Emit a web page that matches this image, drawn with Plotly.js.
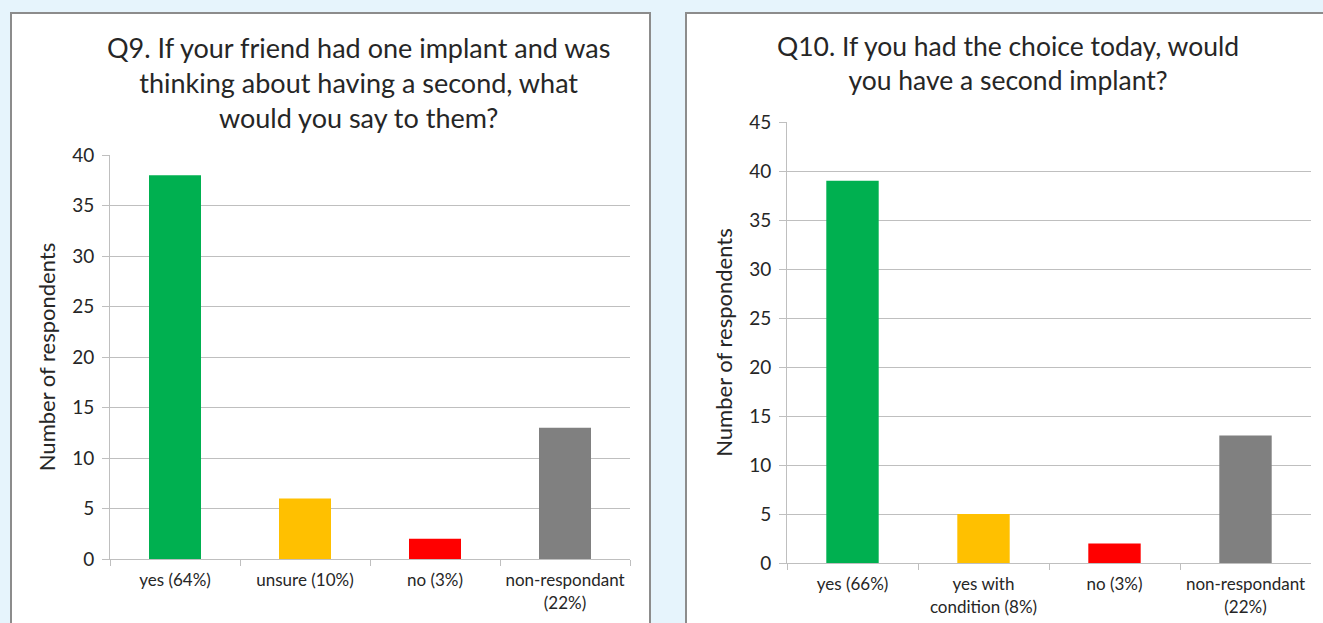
<!DOCTYPE html>
<html>
<head>
<meta charset="utf-8">
<script src="https://cdn.plot.ly/plotly-3.0.1.min.js"></script>
<style>
html,body{margin:0;padding:0;background:#E6F4FC;}
#chart{width:1323px;height:623px;}
</style>
</head>
<body>
<div id="chart"></div>
<script>
// Data
const q9Title = "Q9. If your friend had one implant and was<br>thinking about having a second, what<br>would you say to them?";
const q9Categories = ["yes (64%)", "unsure (10%)", "no (3%)", "non-respondant<br>(22%)"];
const q9Values = [38, 6, 2, 13];

const q10Title = "Q10. If you had the choice today, would<br>you have a second implant?";
const q10Categories = ["yes (66%)", "yes with<br>condition (8%)", "no (3%)", "non-respondant<br>(22%)"];
const q10Values = [39, 5, 2, 13];

const barColors = ["#00B050", "#FFC000", "#FF0000", "#808080"];
const yAxisTitle = "Number of respondents";

const W = 1323, H = 623;
const px = x => x / W;
const py = y => 1 - y / H;

const FONT = "Lato, 'Open Sans', sans-serif";
const TXT = "#262626";
const GRID = "#BFBFBF";

const traces = [
  {type: "bar", x: q9Categories, y: q9Values, marker: {color: barColors}, width: 0.4,
   xaxis: "x", yaxis: "y", hoverinfo: "x+y"},
  {type: "bar", x: q10Categories, y: q10Values, marker: {color: barColors}, width: 0.4,
   xaxis: "x2", yaxis: "y2", hoverinfo: "x+y"}
];

function xax(domain) {
  return {
    domain: domain, type: "category", tickson: "boundaries",
    ticks: "outside", ticklen: 6, tickcolor: GRID, tickwidth: 1,
    showline: true, linecolor: GRID, linewidth: 1,
    showgrid: false, zeroline: false, tickangle: 0,
    tickfont: {family: FONT, size: 17, color: TXT},
    ticklabelstandoff: 6,
    fixedrange: true
  };
}
function yax(domain, range, dtick) {
  return {
    domain: domain, range: range, dtick: dtick,
    ticks: "outside", ticklen: 7, tickcolor: GRID, tickwidth: 1,
    showline: true, linecolor: GRID, linewidth: 1,
    showgrid: true, gridcolor: GRID, gridwidth: 1, zeroline: false,
    tickfont: {family: FONT, size: 19, color: TXT},
    ticklabelstandoff: 4,
    title: {text: yAxisTitle, font: {family: FONT, size: 22, color: TXT}, standoff: 10},
    fixedrange: true
  };
}

const layout = {
  width: W, height: H,
  margin: {l: 0, r: 0, t: 0, b: 0},
  paper_bgcolor: "#E6F4FC",
  plot_bgcolor: "rgba(0,0,0,0)",
  showlegend: false,
  xaxis: Object.assign(xax([px(110), px(630)]), {anchor: "y"}),
  yaxis: Object.assign(yax([1 - 559 / H, 1 - 155 / H], [0, 40], 5), {anchor: "x"}),
  xaxis2: Object.assign(xax([px(787), px(1311)]), {anchor: "y2"}),
  yaxis2: Object.assign(yax([1 - 563 / H, 1 - 122 / H], [0, 45], 5), {anchor: "x2"}),
  shapes: [
    {type: "rect", xref: "paper", yref: "paper", x0: px(11), x1: px(650), y0: py(640), y1: py(13),
     fillcolor: "#FFFFFF", line: {color: "#8C8C8C", width: 2}, layer: "below"},
    {type: "rect", xref: "paper", yref: "paper", x0: px(686), x1: px(1340), y0: py(640), y1: py(13),
     fillcolor: "#FFFFFF", line: {color: "#8C8C8C", width: 2}, layer: "below"}
  ],
  annotations: [
    {text: q9Title, xref: "paper", yref: "paper", x: px(358), y: py(82), xanchor: "center", yanchor: "middle",
     showarrow: false, align: "center", font: {family: FONT, size: 27, color: TXT}},
    {text: q10Title, xref: "paper", yref: "paper", x: px(1008), y: py(63), xanchor: "center", yanchor: "middle",
     showarrow: false, align: "center", font: {family: FONT, size: 26.5, color: TXT}}
  ]
};

Plotly.newPlot("chart", traces, layout, {displayModeBar: false, staticPlot: true});
</script>
</body>
</html>
